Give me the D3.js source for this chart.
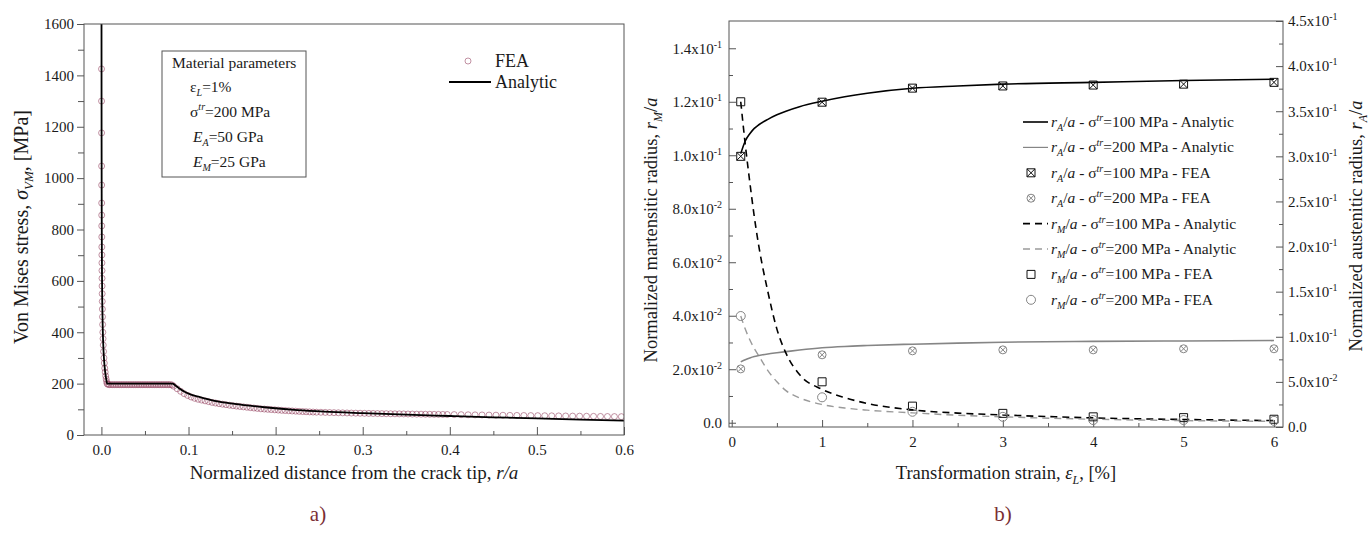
<!DOCTYPE html>
<html><head><meta charset="utf-8">
<script src="https://cdn.jsdelivr.net/npm/d3@7"></script>
<style>
body{margin:0;background:#fff;}
svg{display:block;}
svg text{font-family:"Liberation Serif","Times New Roman",serif;}
</style></head><body>
<svg id="c" width="1370" height="536"></svg>
<script>
// ---------- Chart a) data ----------
const aXTicks = [0, 0.1, 0.2, 0.3, 0.4, 0.5, 0.6];
const aXMinor = [0.05, 0.15, 0.25, 0.35, 0.45, 0.55];
const aYTicks = [0, 200, 400, 600, 800, 1000, 1200, 1400, 1600];
const aYMinor = [100, 300, 500, 700, 900, 1100, 1300, 1500];

const analyticR = [0.00004, 0.00006, 0.0001, 0.00015, 0.0002, 0.0003, 0.0004, 0.0005, 0.0007, 0.001, 0.0015, 0.002, 0.003, 0.004, 0.005, 0.0058, 0.0065, 0.03, 0.06, 0.0815, 0.085, 0.09, 0.095, 0.1, 0.11, 0.118, 0.13, 0.153, 0.187, 0.225, 0.256, 0.3, 0.35, 0.4, 0.45, 0.5, 0.55, 0.6];
const analyticS = [2550, 2080, 1610, 1315, 1140, 930, 805, 720, 608, 509, 416, 360, 294, 255, 228, 212, 200, 200, 200, 200, 193, 180, 169, 161, 150, 143, 133, 121, 108, 97, 91, 85, 79, 74, 69, 65, 60, 56];

const feaR = [0.000128, 0.000153, 0.000187, 0.000236, 0.000274, 0.000318, 0.000354, 0.000391, 0.000436, 0.000484, 0.000527, 0.000577, 0.000633, 0.000697, 0.000771, 0.000857, 0.000959, 0.00108, 0.001225, 0.001402, 0.00162, 0.001843, 0.002116, 0.002454, 0.00288, 0.003306, 0.003834, 0.004318, 0.0049, 0.005454, 0.00599, 0.0065,
  0.0075, 0.009, 0.011, 0.013, 0.015, 0.017, 0.019, 0.021, 0.023, 0.025, 0.027, 0.029, 0.031, 0.033, 0.035, 0.037, 0.039, 0.041, 0.043, 0.045, 0.047, 0.049, 0.051, 0.053, 0.055, 0.057, 0.059, 0.061, 0.063, 0.065, 0.067, 0.069, 0.071, 0.073, 0.075, 0.077, 0.079, 0.081,
  0.083, 0.087, 0.091, 0.095, 0.099, 0.103, 0.107, 0.111, 0.115, 0.119, 0.123, 0.127, 0.131, 0.135, 0.139, 0.143, 0.147, 0.151, 0.155, 0.159, 0.163, 0.167, 0.171, 0.175, 0.179, 0.183, 0.187, 0.191, 0.195, 0.199, 0.203, 0.207, 0.211, 0.215, 0.219, 0.223, 0.227, 0.231, 0.235, 0.239, 0.243, 0.247,
  0.252, 0.257, 0.262, 0.267, 0.272, 0.277, 0.282, 0.287, 0.292, 0.297, 0.302, 0.307, 0.312, 0.317, 0.322, 0.327, 0.332, 0.337, 0.342, 0.347, 0.352, 0.357, 0.362, 0.367, 0.372, 0.377, 0.382, 0.387, 0.392, 0.397,
  0.405, 0.413, 0.421, 0.429, 0.437, 0.445, 0.453, 0.461, 0.469, 0.477, 0.485, 0.493, 0.501, 0.509, 0.517, 0.525, 0.533, 0.541, 0.549, 0.557, 0.565, 0.573, 0.581, 0.589, 0.597];
const feaS = [1425, 1300, 1176, 1047, 973, 903, 856, 814, 771, 732, 701, 670, 640, 610, 580, 550, 520, 490, 460, 430, 400, 375, 350, 325, 300, 280, 260, 245, 230, 218, 208, 200,
  197, 196, 196, 196, 196, 196, 196, 196, 196, 196, 196, 196, 196, 196, 196, 196, 196, 196, 196, 196, 196, 196, 196, 196, 196, 196, 196, 196, 196, 196, 196, 196, 196, 196, 196, 196, 196, 195,
  190, 180, 170, 161, 154, 148, 143, 139, 136, 133, 130, 127, 124.5, 122, 120, 118, 116, 114, 112.5, 111, 109.5, 108, 106.5, 105, 103.5, 102, 101, 100, 99, 98, 97, 96, 95.2, 94.4, 93.6, 92.8, 92, 91.3, 90.6, 90, 89.4, 88.9,
  88.5, 88, 87.5, 87, 86.6, 86.2, 85.8, 85.4, 85, 84.7, 84.4, 84.1, 83.8, 83.5, 83.2, 83, 82.7, 82.5, 82.2, 82, 81.7, 81.5, 81.2, 81, 80.8, 80.6, 80.4, 80.2, 80, 79.8,
  79.5, 79.1, 78.7, 78.3, 78, 77.6, 77.2, 76.9, 76.5, 76.2, 75.9, 75.6, 75.3, 75, 74.6, 74.3, 74, 73.6, 73.3, 73, 72.6, 72.3, 72, 71.7, 71.4];

// ---------- Chart b) data ----------
const bXTicks = [0, 1, 2, 3, 4, 5, 6];
const bXMinor = [0.5, 1.5, 2.5, 3.5, 4.5, 5.5];
const bYLTicks = [0, 0.02, 0.04, 0.06, 0.08, 0.10, 0.12, 0.14];
const bYLMant = ["0.0", "2.0x10", "4.0x10", "6.0x10", "8.0x10", "1.0x10", "1.2x10", "1.4x10"];
const bYLExp = ["", "-2", "-2", "-2", "-2", "-1", "-1", "-1"];
const bYLMinor = [0.01, 0.03, 0.05, 0.07, 0.09, 0.11, 0.13];
const bYRTicks = [0, 0.05, 0.10, 0.15, 0.20, 0.25, 0.30, 0.35, 0.40, 0.45];
const bYRMant = ["0.0", "5.0x10", "1.0x10", "1.5x10", "2.0x10", "2.5x10", "3.0x10", "3.5x10", "4.0x10", "4.5x10"];
const bYRExp = ["", "-2", "-1", "-1", "-1", "-1", "-1", "-1", "-1", "-1"];
const bYRMinor = [0.025, 0.075, 0.125, 0.175, 0.225, 0.275, 0.325, 0.375, 0.425];

const strainA = [0.1, 0.15, 0.2, 0.25, 0.3, 0.4, 0.5, 0.6, 0.75, 1, 1.25, 1.5, 2, 2.5, 3, 4, 5, 6];
const rA100 = [0.303, 0.317, 0.325, 0.331, 0.335, 0.341, 0.346, 0.350, 0.355, 0.361, 0.366, 0.370, 0.3755, 0.378, 0.380, 0.382, 0.384, 0.3855];
const rA200 = [0.0722, 0.0745, 0.0765, 0.0781, 0.0792, 0.0810, 0.0823, 0.0835, 0.0853, 0.0878, 0.0893, 0.0903, 0.0918, 0.0930, 0.0940, 0.0949, 0.0954, 0.0958];
const rM100 = [0.120, 0.104, 0.090, 0.077, 0.066, 0.049, 0.035, 0.026, 0.018, 0.0125, 0.0094, 0.0072, 0.0048, 0.0036, 0.0029, 0.0018, 0.0012, 0.0008];
const rM200 = [0.0399, 0.0350, 0.0310, 0.0277, 0.0250, 0.0195, 0.0153, 0.0120, 0.0093, 0.0068, 0.0055, 0.0047, 0.0037, 0.0028, 0.0022, 0.0013, 0.0008, 0.0005];

const strainF = [0.1, 1, 2, 3, 4, 5, 6];
const rA100F = [0.300, 0.360, 0.3756, 0.378, 0.379, 0.380, 0.382];
const rA200F = [0.0644, 0.080, 0.0844, 0.0855, 0.0855, 0.0867, 0.0867];
const rM100F = [0.120, 0.0153, 0.0062, 0.0035, 0.0022, 0.0019, 0.0013];
const rM200F = [0.0399, 0.0095, 0.0041, 0.0022, 0.0010, 0.0010, 0.0007];

// ---------- helpers ----------
const SERIF = '"Liberation Serif","Times New Roman",serif';
const svg = d3.select("#c");
svg.append("rect").attr("width", 1370).attr("height", 536).attr("fill", "#fff");
const AX = "#555";
const TXT = "#1a1a1a";
const FEA_COL = "#8e3656";

function rich(sel, parts) {
  let cur = 0;
  parts.forEach(p => {
    const ts = sel.append("tspan").text(p.t);
    let target = 0, fs = null;
    if (p.sub) { target = p.subDy || 4; fs = p.fs || "65%"; }
    if (p.sup) { target = p.supDy || -6; fs = p.fs || "65%"; }
    if (target - cur !== 0) ts.attr("dy", target - cur);
    cur = target;
    if (fs) ts.attr("font-size", fs);
    if (p.i) ts.attr("font-style", "italic");
  });
}

function styleAxis(g, fs) {
  g.attr("font-family", SERIF);
  if (fs) g.attr("font-size", fs);
  g.select(".domain").remove();
  g.selectAll(".tick line").attr("stroke", AX);
  g.selectAll(".tick text").attr("fill", TXT).attr("font-family", SERIF);
}

// ================= Chart a) =================
const xA = d3.scaleLinear().domain([-0.02, 0.6]).range([84, 624]);
const yA = d3.scaleLinear().domain([0, 1600]).range([435, 24]);

svg.append("clipPath").attr("id", "clipA").append("rect")
  .attr("x", 84).attr("y", 24).attr("width", 540).attr("height", 411);

const gAx = svg.append("g").attr("transform", "translate(0,435)")
  .call(d3.axisBottom(xA).tickValues(aXTicks).tickFormat(d3.format(".1f")).tickSize(-8).tickPadding(9));
styleAxis(gAx, 15);
const gAxm = svg.append("g").attr("transform", "translate(0,435)")
  .call(d3.axisBottom(xA).tickValues(aXMinor).tickFormat("").tickSize(-4));
styleAxis(gAxm);
const gAy = svg.append("g").attr("transform", "translate(84,0)")
  .call(d3.axisLeft(yA).tickValues(aYTicks).tickFormat(d3.format("d")).tickSize(7).tickPadding(3));
styleAxis(gAy, 15);
const gAym = svg.append("g").attr("transform", "translate(84,0)")
  .call(d3.axisLeft(yA).tickValues(aYMinor).tickFormat("").tickSize(6));
styleAxis(gAym);

const plotA = svg.append("g").attr("clip-path", "url(#clipA)");
plotA.selectAll("circle.fea").data(feaR.map((r, i) => [r, feaS[i]])).join("circle")
  .attr("class", "fea")
  .attr("cx", d => xA(d[0])).attr("cy", d => yA(d[1])).attr("r", 3)
  .attr("fill", "none").attr("stroke", FEA_COL).attr("stroke-opacity", 0.6).attr("stroke-width", 0.9);
plotA.append("path")
  .datum(analyticR.map((r, i) => [r, analyticS[i]]))
  .attr("fill", "none").attr("stroke", "#000").attr("stroke-width", 1.8)
  .attr("d", d3.line().x(d => xA(d[0])).y(d => yA(d[1])).curve(d3.curveMonotoneX));

svg.append("rect").attr("x", 84).attr("y", 24).attr("width", 540).attr("height", 411)
  .attr("fill", "none").attr("stroke", AX).attr("stroke-width", 1);

// inset box
svg.append("rect").attr("x", 162).attr("y", 51).attr("width", 144).attr("height", 126)
  .attr("fill", "none").attr("stroke", AX).attr("stroke-width", 1);
const inset = svg.append("g").attr("font-size", 15.5).attr("fill", TXT);
inset.append("text").attr("x", 172).attr("y", 68).text("Material parameters");
rich(inset.append("text").attr("x", 190).attr("y", 92), [{t: "ε"}, {t: "L", sub: 1, i: 1, subDy: 4}, {t: "=1%"}]);
rich(inset.append("text").attr("x", 190).attr("y", 117), [{t: "σ"}, {t: "tr", sup: 1, i: 1, supDy: -7}, {t: "=200 MPa"}]);
rich(inset.append("text").attr("x", 193).attr("y", 142), [{t: "E", i: 1}, {t: "A", sub: 1, i: 1, subDy: 4}, {t: "=50 GPa"}]);
rich(inset.append("text").attr("x", 193).attr("y", 167), [{t: "E", i: 1}, {t: "M", sub: 1, i: 1, subDy: 4}, {t: "=25 GPa"}]);

// legend a
svg.append("circle").attr("cx", 468).attr("cy", 61).attr("r", 3)
  .attr("fill", "none").attr("stroke", FEA_COL).attr("stroke-opacity", 0.6).attr("stroke-width", 0.9);
svg.append("text").attr("x", 495).attr("y", 67).attr("font-size", 18).attr("fill", TXT).text("FEA");
svg.append("line").attr("x1", 449).attr("x2", 491).attr("y1", 82).attr("y2", 82).attr("stroke", "#000").attr("stroke-width", 1.8);
svg.append("text").attr("x", 495).attr("y", 88).attr("font-size", 18).attr("fill", TXT).text("Analytic");

// titles a
rich(svg.append("text").attr("x", 354).attr("y", 479).attr("text-anchor", "middle").attr("font-size", 19).attr("fill", TXT),
  [{t: "Normalized distance from the crack tip, "}, {t: "r/a", i: 1}]);
rich(svg.append("text").attr("transform", "translate(28,227) rotate(-90)").attr("text-anchor", "middle").attr("font-size", 20).attr("fill", TXT),
  [{t: "Von Mises stress, "}, {t: "σ", i: 1}, {t: "VM", sub: 1, i: 1, subDy: 5}, {t: ", [MPa]"}]);
svg.append("text").attr("x", 318).attr("y", 521).attr("text-anchor", "middle").attr("font-size", 21)
  .attr("fill", "#7a2e33").text("a)");

// ================= Chart b) =================
const xB = d3.scaleLinear().domain([-0.03, 6.1]).range([729, 1283]);
const yBL = d3.scaleLinear().domain([-0.0016, 0.1502]).range([427, 21]);
const yBR = d3.scaleLinear().domain([0, 0.45]).range([427, 21]);

svg.append("clipPath").attr("id", "clipB").append("rect")
  .attr("x", 729).attr("y", 21).attr("width", 554).attr("height", 406);

const gBx = svg.append("g").attr("transform", "translate(0,427)")
  .call(d3.axisBottom(xB).tickValues(bXTicks).tickFormat(d3.format("d")).tickSize(-7).tickPadding(9));
styleAxis(gBx, 15);
const gBxm = svg.append("g").attr("transform", "translate(0,427)")
  .call(d3.axisBottom(xB).tickValues(bXMinor).tickFormat("").tickSize(-4));
styleAxis(gBxm);

function expLabels(g, mant, exp) {
  g.selectAll(".tick text").each(function (d, i) {
    const t = d3.select(this);
    t.text(null);
    t.append("tspan").text(mant[i]);
    if (exp[i]) t.append("tspan").attr("dy", -6).attr("font-size", 10).text(exp[i]);
  });
}
const gByl = svg.append("g").attr("transform", "translate(729,0)")
  .call(d3.axisLeft(yBL).tickValues(bYLTicks).tickSize(-7).tickPadding(7));
styleAxis(gByl, 15);
expLabels(gByl, bYLMant, bYLExp);
const gBylm = svg.append("g").attr("transform", "translate(729,0)")
  .call(d3.axisLeft(yBL).tickValues(bYLMinor).tickFormat("").tickSize(-4));
styleAxis(gBylm);

const gByr = svg.append("g").attr("transform", "translate(1283,0)")
  .call(d3.axisRight(yBR).tickValues(bYRTicks).tickSize(-7).tickPadding(5));
styleAxis(gByr, 15);
expLabels(gByr, bYRMant, bYRExp);
const gByrm = svg.append("g").attr("transform", "translate(1283,0)")
  .call(d3.axisRight(yBR).tickValues(bYRMinor).tickFormat("").tickSize(-4));
styleAxis(gByrm);

const plotB = svg.append("g").attr("clip-path", "url(#clipB)");
const lineR = d3.line().x(d => xB(d[0])).y(d => yBR(d[1])).curve(d3.curveMonotoneX);
const lineL = d3.line().x(d => xB(d[0])).y(d => yBL(d[1])).curve(d3.curveMonotoneX);
const GRAY = "#858585";
const GRAYD = "#9a9a9a";

plotB.append("path").datum(strainA.map((x, i) => [x, rA100[i]]))
  .attr("fill", "none").attr("stroke", "#000").attr("stroke-width", 1.6).attr("d", lineR);
plotB.append("path").datum(strainA.map((x, i) => [x, rA200[i]]))
  .attr("fill", "none").attr("stroke", GRAY).attr("stroke-width", 1.6).attr("d", lineR);
plotB.append("path").datum(strainA.map((x, i) => [x, rM100[i]]))
  .attr("fill", "none").attr("stroke", "#000").attr("stroke-width", 1.6).attr("stroke-dasharray", "7,5").attr("d", lineL);
plotB.append("path").datum(strainA.map((x, i) => [x, rM200[i]]))
  .attr("fill", "none").attr("stroke", GRAYD).attr("stroke-width", 1.4).attr("stroke-dasharray", "7,5").attr("d", lineL);

function crossSq(cx, cy, h) {
  return `M${cx - h},${cy - h}h${2 * h}v${2 * h}h${-2 * h}Z M${cx - h},${cy - h}L${cx + h},${cy + h} M${cx + h},${cy - h}L${cx - h},${cy + h}`;
}
function crossCirc(cx, cy, r) {
  const k = r * 0.7071;
  return `M${cx + r},${cy}A${r},${r} 0 1,1 ${cx - r},${cy}A${r},${r} 0 1,1 ${cx + r},${cy}Z M${cx - k},${cy - k}L${cx + k},${cy + k} M${cx + k},${cy - k}L${cx - k},${cy + k}`;
}
function circ(cx, cy, r) {
  return `M${cx + r},${cy}A${r},${r} 0 1,1 ${cx - r},${cy}A${r},${r} 0 1,1 ${cx + r},${cy}Z`;
}
function sq(cx, cy, h) {
  return `M${cx - h},${cy - h}h${2 * h}v${2 * h}h${-2 * h}Z`;
}

plotB.selectAll("path.ma").data(strainF.map((x, i) => [x, rA100F[i]])).join("path").attr("class", "ma")
  .attr("d", d => crossSq(xB(d[0]), yBR(d[1]), 4)).attr("fill", "none").attr("stroke", "#111").attr("stroke-width", 1);
plotB.selectAll("path.mb").data(strainF.map((x, i) => [x, rA200F[i]])).join("path").attr("class", "mb")
  .attr("d", d => crossCirc(xB(d[0]), yBR(d[1]), 4)).attr("fill", "none").attr("stroke", GRAY).attr("stroke-width", 1);
plotB.selectAll("path.mc").data(strainF.map((x, i) => [x, rM100F[i]])).join("path").attr("class", "mc")
  .attr("d", d => sq(xB(d[0]), yBL(d[1]), 4)).attr("fill", "none").attr("stroke", "#111").attr("stroke-width", 1);
plotB.selectAll("path.md").data(strainF.map((x, i) => [x, rM200F[i]])).join("path").attr("class", "md")
  .attr("d", d => circ(xB(d[0]), yBL(d[1]), 4.5)).attr("fill", "none").attr("stroke", GRAY).attr("stroke-width", 1);

svg.append("rect").attr("x", 729).attr("y", 21).attr("width", 554).attr("height", 406)
  .attr("fill", "none").attr("stroke", AX).attr("stroke-width", 1);

// legend b
const legB = [
  {kind: "line", color: "#000", dash: null, w: 1.6, sym: "A", tr: "100", tail: "Analytic"},
  {kind: "line", color: GRAY, dash: null, w: 1.2, sym: "A", tr: "200", tail: "Analytic"},
  {kind: "csq", color: "#111", sym: "A", tr: "100", tail: "FEA"},
  {kind: "ccirc", color: GRAY, sym: "A", tr: "200", tail: "FEA"},
  {kind: "line", color: "#000", dash: "7,5", w: 1.6, sym: "M", tr: "100", tail: "Analytic"},
  {kind: "line", color: GRAYD, dash: "7,5", w: 1.4, sym: "M", tr: "200", tail: "Analytic"},
  {kind: "sq", color: "#111", sym: "M", tr: "100", tail: "FEA"},
  {kind: "circ", color: GRAY, sym: "M", tr: "200", tail: "FEA"}
];
const lg = svg.append("g");
legB.forEach((e, i) => {
  const cy = 122 + i * 25.4;
  if (e.kind === "line") {
    const l = lg.append("line").attr("x1", 1023).attr("x2", 1048).attr("y1", cy).attr("y2", cy)
      .attr("stroke", e.color).attr("stroke-width", e.w);
    if (e.dash) l.attr("stroke-dasharray", e.dash);
  } else {
    let d;
    if (e.kind === "csq") d = crossSq(1031, cy, 4);
    if (e.kind === "ccirc") d = crossCirc(1031, cy, 4);
    if (e.kind === "sq") d = sq(1031, cy, 4);
    if (e.kind === "circ") d = circ(1031, cy, 4.5);
    lg.append("path").attr("d", d).attr("fill", "none").attr("stroke", e.color).attr("stroke-width", 1);
  }
  rich(lg.append("text").attr("x", 1051).attr("y", cy + 5).attr("font-size", 15.5).attr("fill", TXT),
    [{t: "r", i: 1}, {t: e.sym, sub: 1, i: 1, subDy: 4}, {t: "/"}, {t: "a", i: 1}, {t: " - σ"},
     {t: "tr", sup: 1, i: 1, supDy: -6}, {t: "=" + e.tr + " MPa - " + e.tail}]);
});

// titles b
rich(svg.append("text").attr("x", 1006).attr("y", 479).attr("text-anchor", "middle").attr("font-size", 18.5).attr("fill", TXT),
  [{t: "Transformation strain, "}, {t: "ε", i: 1}, {t: "L", sub: 1, i: 1, subDy: 5}, {t: ", [%]"}]);
rich(svg.append("text").attr("transform", "translate(657,230) rotate(-90)").attr("text-anchor", "middle").attr("font-size", 18.5).attr("fill", TXT),
  [{t: "Normalized martensitic radius, "}, {t: "r", i: 1}, {t: "M", sub: 1, i: 1, subDy: 5}, {t: "/"}, {t: "a", i: 1}]);
rich(svg.append("text").attr("transform", "translate(1362,226) rotate(-90)").attr("text-anchor", "middle").attr("font-size", 18.5).attr("fill", TXT),
  [{t: "Normalized austenitic radius, "}, {t: "r", i: 1}, {t: "A", sub: 1, i: 1, subDy: 5}, {t: "/"}, {t: "a", i: 1}]);
svg.append("text").attr("x", 1003).attr("y", 521).attr("text-anchor", "middle").attr("font-size", 21)
  .attr("fill", "#7a2e33").text("b)");
</script>
</body></html>
